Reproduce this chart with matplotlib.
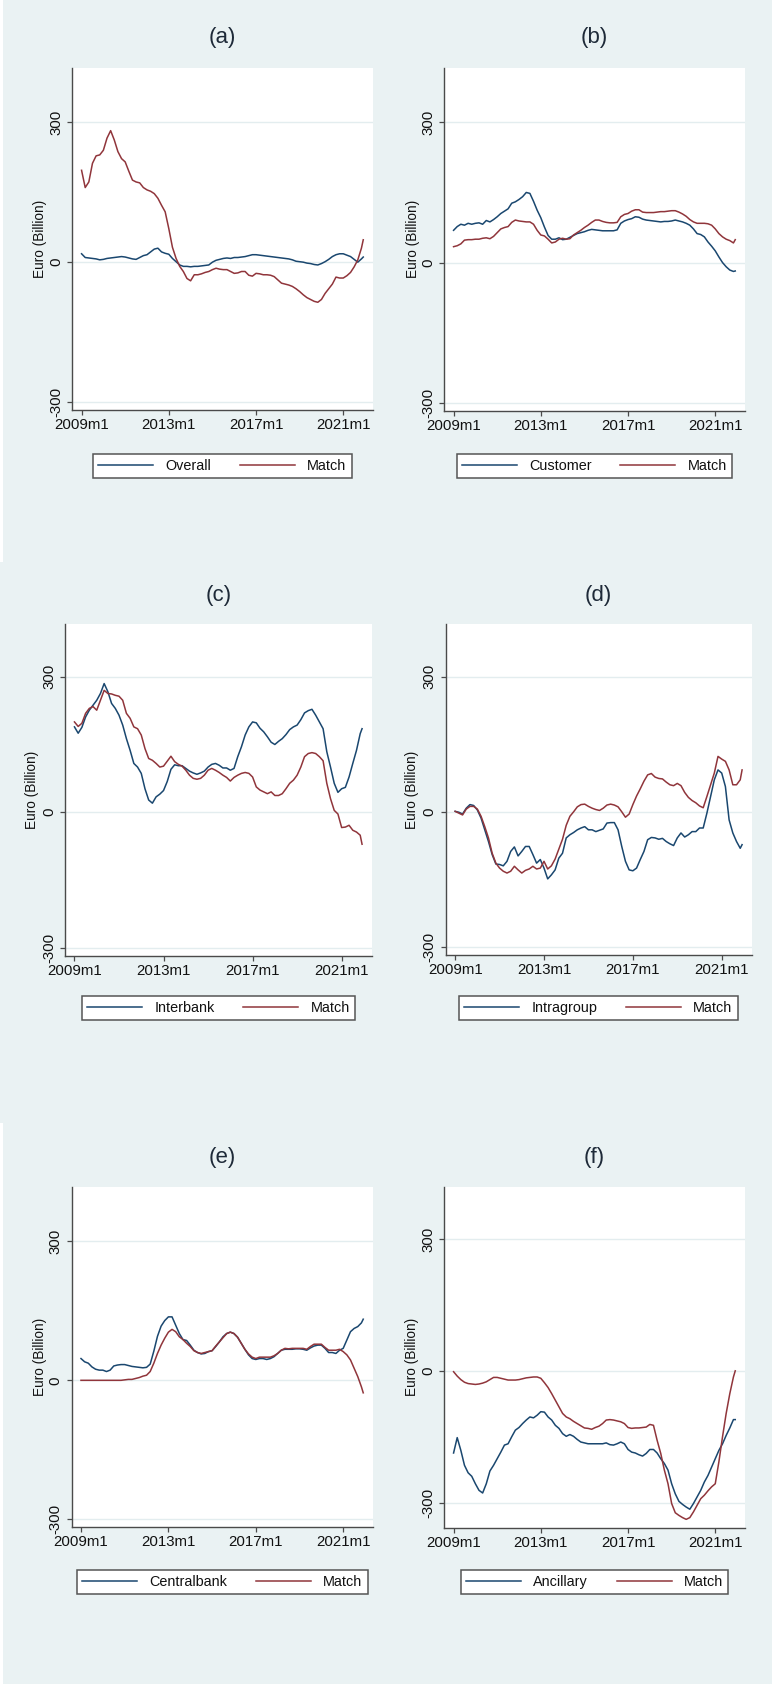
import numpy as np
import matplotlib
matplotlib.use('Agg')
import matplotlib.pyplot as plt
from matplotlib.patches import Rectangle
from matplotlib.lines import Line2D

plt.rcParams['font.family'] = ['Liberation Sans', 'DejaVu Sans']

# ---------------- data (billion euro), month index 0 = 2009m1 ----------------
months = list(range(0, 155, 2)) + [155]

overall_a = [18, 10, 9, 8, 7, 5, 6, 8, 9, 10,
             11, 12, 11, 9, 7, 6, 10, 14, 16, 22,
             28, 30, 22, 19, 17, 8, 1, -6, -9, -9,
             -10, -9, -9, -8, -7, -6, 0, 4, 6, 8,
             9, 8, 10, 10, 11, 12, 14, 16, 16, 15,
             14, 13, 12, 11, 10, 9, 8, 7, 5, 2,
             1, 0, -2, -3, -5, -6, -3, 1, 6, 12,
             16, 18, 18, 15, 12, 6, 0, 7,
             11]
match_a = [197, 160, 172, 212, 228, 230, 240, 266, 282, 262,
           237, 222, 215, 195, 176, 172, 170, 160, 155, 152,
           147, 137, 122, 108, 72, 32, 8, -9, -20, -35,
           -40, -27, -27, -25, -22, -20, -16, -13, -15, -16,
           -16, -20, -24, -23, -20, -20, -28, -30, -24, -25,
           -27, -27, -28, -31, -38, -45, -47, -49, -52, -57,
           -63, -70, -76, -80, -84, -86, -80, -67, -57, -47,
           -32, -34, -34, -29, -22, -10, 5, 30,
           48]

customer_b = [69, 77, 82, 80, 84, 82, 84, 85, 82, 90,
              87, 92, 98, 105, 110, 115, 127, 130, 135, 141,
              150, 148, 131, 112, 96, 76, 58, 50, 50, 53,
              49, 50, 54, 58, 62, 64, 66, 69, 71, 70,
              69, 68, 68, 68, 68, 70, 84, 89, 92, 94,
              98, 97, 93, 91, 90, 89, 88, 87, 88, 88,
              89, 91, 89, 87, 84, 80, 72, 62, 60, 55,
              44, 35, 25, 12, 0, -9, -16, -19,
              -18]
match_b = [34, 36, 40, 48, 49, 49, 50, 50, 52, 53,
           51, 56, 64, 72, 75, 77, 86, 91, 89, 88,
           87, 87, 82, 69, 59, 57, 50, 42, 44, 50,
           52, 50, 51, 59, 64, 69, 75, 80, 86, 91,
           91, 88, 86, 85, 85, 86, 98, 103, 105, 110,
           113, 113, 108, 107, 107, 107, 108, 109, 109, 110,
           111, 111, 108, 104, 99, 92, 87, 84, 84, 84,
           83, 80, 72, 62, 55, 50, 47, 42,
           49]

interbank_c = [189, 175, 188, 211, 226, 237, 248, 263, 285, 267,
               241, 230, 215, 193, 163, 137, 108, 100, 86, 52,
               27, 20, 34, 40, 48, 68, 95, 105, 103, 103,
               97, 91, 87, 84, 87, 91, 100, 106, 108, 104,
               98, 98, 93, 97, 123, 145, 171, 189, 200, 198,
               186, 178, 167, 155, 150, 157, 163, 172, 183, 189,
               193, 205, 220, 225, 228, 215, 200, 185, 134, 100,
               64, 44, 52, 55, 78, 108, 137, 174,
               185]
match_c = [200, 190, 197, 219, 230, 234, 226, 248, 270, 263,
           262, 259, 257, 248, 219, 208, 189, 185, 171, 141,
           119, 115, 108, 100, 102, 113, 124, 112, 106, 102,
           93, 82, 75, 73, 75, 82, 93, 97, 93, 88,
           82, 77, 69, 77, 82, 86, 88, 86, 78, 56,
           49, 45, 41, 45, 37, 37, 41, 52, 64, 71,
           82, 100, 123, 130, 132, 130, 123, 114, 64, 30,
           4, -4, -34, -33, -29, -40, -44, -51,
           -71]

intragroup_d = [1, -1, -5, 8, 16, 14, 4, -14, -40, -66,
                -95, -116, -117, -120, -110, -88, -78, -98, -88, -77,
                -77, -95, -114, -106, -125, -149, -140, -129, -103, -92,
                -58, -51, -46, -40, -36, -33, -40, -40, -44, -41,
                -38, -25, -24, -24, -40, -77, -110, -129, -131, -125,
                -106, -88, -62, -57, -58, -61, -59, -66, -71, -75,
                -58, -47, -56, -51, -44, -44, -36, -36, -3, 34,
                71, 93, 86, 56, -18, -47, -66, -81,
                -73]
match_d = [1, -3, -7, 6, 12, 12, 6, -10, -33, -58,
           -92, -114, -125, -132, -136, -132, -121, -129, -136, -130,
           -127, -121, -127, -125, -110, -127, -120, -105, -83, -61,
           -30, -10, 0, 11, 16, 17, 12, 8, 5, 3,
           8, 15, 17, 15, 11, 0, -12, -5, 16, 35,
           51, 68, 82, 85, 77, 74, 73, 66, 60, 58,
           63, 58, 43, 32, 25, 20, 13, 9, 34, 60,
           86, 123, 117, 112, 93, 60, 60, 71,
           93]

centralbank_e = [47, 40, 37, 29, 24, 22, 22, 19, 22, 31,
                 33, 34, 34, 32, 30, 29, 28, 27, 28, 35,
                 63, 95, 117, 129, 137, 137, 119, 101, 88, 86,
                 76, 65, 60, 57, 58, 62, 64, 73, 83, 94,
                 101, 104, 101, 93, 80, 67, 55, 47, 45, 47,
                 47, 45, 47, 51, 58, 65, 67, 67, 67, 68,
                 68, 67, 65, 70, 74, 76, 76, 69, 60, 60,
                 58, 65, 69, 87, 105, 112, 116, 124,
                 132]
match_e = [0, 0, 0, 0, 0, 0, 0, 0, 0, 0,
           0, 0, 1, 2, 2, 4, 6, 9, 11, 19,
           37, 58, 76, 91, 104, 110, 105, 94, 88, 80,
           73, 64, 60, 58, 60, 62, 64, 74, 83, 92,
           101, 104, 101, 93, 80, 67, 57, 50, 47, 50,
           50, 50, 50, 53, 58, 65, 69, 68, 69, 69,
           69, 69, 67, 73, 78, 78, 78, 71, 65, 65,
           65, 67, 62, 55, 44, 26, 8, -14,
           -27]

ancillary_f = [-187, -152, -181, -215, -232, -240, -257, -272, -278, -257,
               -228, -215, -200, -185, -169, -166, -150, -135, -129, -120,
               -112, -105, -107, -101, -93, -94, -105, -112, -124, -131,
               -143, -149, -145, -149, -156, -162, -164, -166, -166, -166,
               -166, -166, -164, -168, -169, -166, -162, -166, -179, -185,
               -187, -191, -194, -188, -179, -179, -187, -200, -211, -226,
               -257, -280, -297, -304, -310, -315, -302, -287, -272, -253,
               -238, -219, -200, -181, -166, -147, -130, -111,
               -111]
match_f = [-2, -12, -20, -26, -29, -30, -31, -30, -28, -25,
           -20, -15, -15, -17, -19, -21, -21, -21, -20, -18,
           -16, -15, -14, -14, -17, -27, -38, -52, -67, -82,
           -97, -105, -109, -115, -120, -125, -130, -131, -133, -129,
           -126, -120, -112, -111, -112, -114, -116, -120, -129, -131,
           -130, -130, -129, -128, -122, -124, -158, -188, -226, -257,
           -302, -323, -329, -334, -338, -334, -321, -306, -291, -283,
           -273, -264, -257, -207, -150, -97, -52, -14,
           0]

panel_titles = ['(a)', '(b)', '(c)', '(d)', '(e)', '(f)']
series_names = ['Overall', 'Customer', 'Interbank', 'Intragroup', 'Centralbank', 'Ancillary']
match_name = 'Match'
xtick_months = [0, 48, 96, 144]
xtick_labels = ['2009m1', '2013m1', '2017m1', '2021m1']
ytick_values = [-300, 0, 300]
ylabel = 'Euro (Billion)'

series = [overall_a, customer_b, interbank_c, intragroup_d, centralbank_e, ancillary_f]
matches = [match_a, match_b, match_c, match_d, match_e, match_f]

# ---------------- layout (pixels in a 772x1684 canvas) ----------------
W, H = 772, 1684
DPI = 100
BG = '#EAF2F3'
NAVY = '#1a476f'
MAROON = '#90353b'
AXC = '#4a4a4a'
GRID = '#E3EDEF'

# (left, top, right, bottom) of plot area
boxes = [(72.3, 67.7, 372.7, 410.0), (444.3, 67.7, 744.7, 410.7),
         (65.0, 624.0, 371.7, 955.7), (445.7, 624.0, 751.7, 955.0),
         (71.7, 1186.7, 372.7, 1526.7), (444.3, 1186.7, 744.7, 1527.7)]
ylims = [(-317, 417), (-317, 417), (-318, 417), (-318, 417), (-316, 418), (-357, 419)]
title_y = [37, 37, 595, 595, 1157.7, 1157.7]
ylabel_x = [40, 412.7, 31.7, 412.3, 40, 412.3]
legend_box = [(93, 454, 352, 477.7), (455.3, 454, 733.3, 478),
              (78, 996.7, 358.7, 1020), (455.3, 996.7, 741.3, 1020),
              (77.3, 1570.7, 367.3, 1594), (460.7, 1570.7, 728.3, 1594)]

fig = plt.figure(figsize=(W / DPI, H / DPI), dpi=DPI, facecolor=BG)

# thin white strips on the left edge of the composed image
for (y0, y1) in [(0, 562), (1123, 1684)]:
    fig.patches.append(Rectangle((0, 1 - y1 / H), 3 / W, (y1 - y0) / H,
                                 transform=fig.transFigure, facecolor='white',
                                 edgecolor='none', zorder=0))

for i in range(6):
    l, t, r, b = boxes[i]
    ax = fig.add_axes([l / W, 1 - b / H, (r - l) / W, (b - t) / H])
    ax.set_facecolor('white')
    ax.plot(months, series[i], color=NAVY, lw=1.1, solid_joinstyle='round', zorder=3)
    ax.plot(months, matches[i], color=MAROON, lw=1.1, solid_joinstyle='round', zorder=3)
    ax.set_xlim(-5.1, 160.2)
    ax.set_ylim(*ylims[i])
    ax.set_xticks(xtick_months)
    ax.set_xticklabels(xtick_labels)
    ax.set_yticks(ytick_values)
    ax.set_yticklabels([str(v) for v in ytick_values])
    for v in ytick_values:
        ax.axhline(v, color=GRID, lw=1.0, zorder=1)
    for s in ['top', 'right']:
        ax.spines[s].set_visible(False)
    for s in ['left', 'bottom']:
        ax.spines[s].set_color(AXC)
        ax.spines[s].set_linewidth(1.0)
    ax.tick_params(axis='both', colors=AXC, length=3.5, width=0.9, labelsize=10.8,
                   labelcolor='#111111')
    ax.tick_params(axis='x', pad=2.5)
    ax.tick_params(axis='y', pad=3.0, labelrotation=90)
    for lab in ax.get_yticklabels():
        lab.set_va('center')
    # title
    fig.text(((l + r) / 2) / W, 1 - title_y[i] / H, panel_titles[i], ha='center',
             va='center', fontsize=16, color='#1e2a38')
    # y label
    fig.text(ylabel_x[i] / W, 1 - ((t + b) / 2) / H, ylabel, rotation=90,
             ha='center', va='center', fontsize=9.8, color='#111111')
    # legend
    lx0, ly0, lx1, ly1 = legend_box[i]
    handles = [Line2D([], [], color=NAVY, lw=1.1), Line2D([], [], color=MAROON, lw=1.1)]
    leg = fig.legend(handles, [series_names[i], match_name], loc='center',
                     bbox_to_anchor=(((lx0 + lx1) / 2) / W, 1 - ((ly0 + ly1) / 2) / H),
                     ncol=2, frameon=True, fancybox=False, fontsize=10.4,
                     handlelength=3.8, handletextpad=0.85, columnspacing=2.0,
                     borderpad=0.35, borderaxespad=0)
    fr = leg.get_frame()
    fr.set_edgecolor('#555555')
    fr.set_linewidth(1.1)
    fr.set_facecolor('white')
    fr.set_alpha(1)
    for txt in leg.get_texts():
        txt.set_color('#111111')

fig.savefig('out.png', dpi=DPI, facecolor=BG)
